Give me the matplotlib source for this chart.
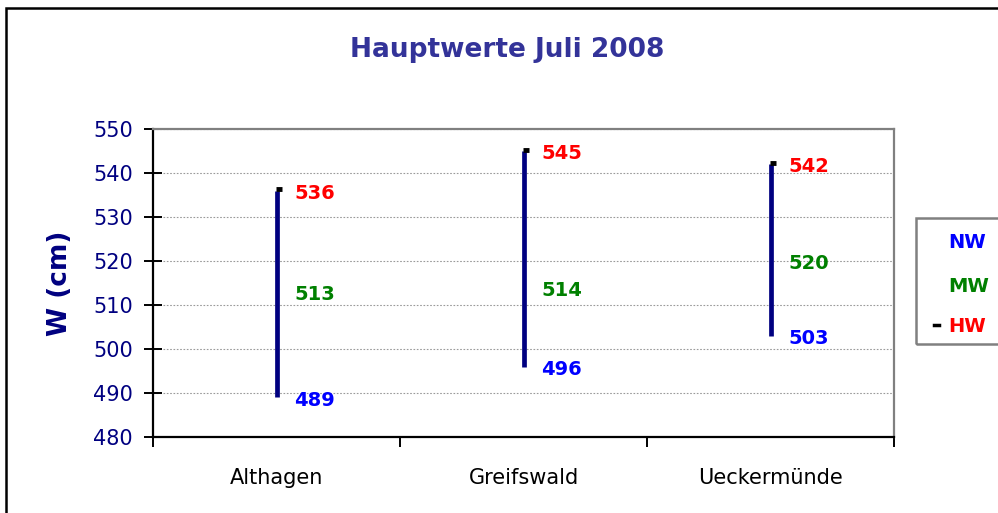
import matplotlib
matplotlib.use("Agg")
import matplotlib.pyplot as plt
import matplotlib.transforms as mtransforms
from matplotlib.patches import Rectangle
from matplotlib.lines import Line2D

# ---- data ----
stations = ["Althagen", "Greifswald", "Ueckermünde"]
nw = [489, 496, 503]   # low
mw = [513, 514, 520]   # mean
hw = [536, 545, 542]   # high
series_names = ["NW", "MW", "HW"]
title = "Hauptwerte Juli 2008"
ylabel = "W (cm)"
yticks = [480, 490, 500, 510, 520, 530, 540, 550]

W, H = 998, 513
fig = plt.figure(figsize=(W / 100, H / 100), dpi=100)
fig.patch.set_facecolor("white")

def fx(px):
    return px / W

def fy(py):
    return 1 - py / H

ax = fig.add_axes([fx(153), fy(437), fx(894) - fx(153), fy(129) - fy(437)])
ax.set_facecolor("white")

navy = "#000080"
c_nw, c_mw, c_hw = "#0000FF", "#008000", "#FF0000"

x = list(range(len(stations)))
ax.set_xlim(-0.5, len(stations) - 0.5)
ax.set_ylim(480, 550)

# gridlines
ax.set_yticks(yticks)
ax.yaxis.grid(True, color="#9a9a9a", linestyle=(0, (1.5, 1.5)), linewidth=0.8)
ax.set_axisbelow(True)

# high-low lines
for xi, lo, hi in zip(x, nw, hw):
    ax.plot([xi, xi], [lo, hi], color=navy, linewidth=3.4, solid_capstyle="butt", zorder=3)

# HW markers (dash to the right)
off = mtransforms.ScaledTranslation(2.5 / 100, 1.5 / 100, fig.dpi_scale_trans)
ax.plot(x, hw, linestyle="none", marker="_", markersize=5, markeredgewidth=3.5,
        color="black", transform=ax.transData + off, zorder=4)

# value labels
for xi, lo, mi, hi in zip(x, nw, mw, hw):
    for val, col in ((lo, c_nw), (mi, c_mw), (hi, c_hw)):
        ax.annotate(f"{val}", xy=(xi, val), xytext=(13, -2), textcoords="offset points",
                    ha="left", va="center", color=col, fontsize=14, fontweight="bold",
                    zorder=5)

# spines
for s in ("left", "bottom"):
    ax.spines[s].set_color("black")
    ax.spines[s].set_linewidth(1.6)
for s in ("top", "right"):
    ax.spines[s].set_color("#808080")
    ax.spines[s].set_linewidth(1.6)

# y ticks
ax.tick_params(axis="y", direction="inout", length=13, width=1.4, color="black",
               labelsize=15, labelcolor=navy, pad=8)

# x ticks: boundaries minor with marks, categories major without marks
ax.set_xticks(x)
ax.set_xticklabels(stations)
ax.set_xticks([-0.5, 0.5, 1.5, 2.5], minor=True)
ax.tick_params(axis="x", which="major", length=0, labelsize=15, labelcolor="black", pad=22)
ax.tick_params(axis="x", which="minor", direction="out", length=7, width=1.4, color="black")

# title and axis label
fig.text(fx(507), fy(50), title, ha="center", va="center", fontsize=19,
         fontweight="bold", color="#333399")
fig.text(fx(60), fy(283), ylabel, ha="center", va="center", rotation=90,
         fontsize=19, fontweight="bold", color=navy)

# legend box (manual, cut off at right edge like reference)
fig.patches.append(Rectangle((fx(916), fy(344)), fx(200), fy(218) - fy(344),
                             transform=fig.transFigure, fill=False,
                             edgecolor="#808080", linewidth=1.8, zorder=1))
leg_y = [243, 286, 326]
leg_cols = [c_nw, c_mw, c_hw]
for name, yy, col in zip(series_names, leg_y, leg_cols):
    fig.text(fx(948), fy(yy), name, ha="left", va="center", fontsize=14,
             fontweight="bold", color=col)
fig.lines.append(Line2D([fx(934), fx(939)], [fy(325), fy(325)], transform=fig.transFigure,
                        color="black", linewidth=2.5))

# outer border
fig.patches.append(Rectangle((fx(6), fy(600)), fx(1200), fy(8) - fy(600),
                             transform=fig.transFigure, fill=False,
                             edgecolor="black", linewidth=1.8, zorder=0))

fig.savefig("out.png", dpi=100)
